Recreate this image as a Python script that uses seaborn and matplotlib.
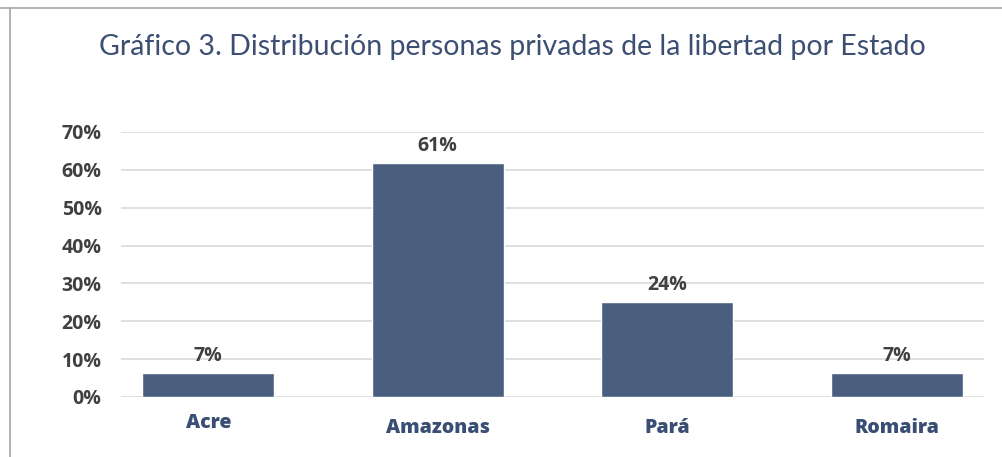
import numpy as np
import pandas as pd
import matplotlib
matplotlib.use('Agg')
import matplotlib.pyplot as plt
import matplotlib.transforms as mtransforms
from matplotlib.lines import Line2D
import seaborn as sns

# Data
estados = ['Acre', 'Amazonas', 'Pará', 'Romaira']
porcentaje = [6.3, 61.8, 25.1, 6.3]          # bar heights (%)
etiquetas = ['7%', '61%', '24%', '7%']       # printed data labels
y_ticks = [0, 10, 20, 30, 40, 50, 60, 70]

TITLE = 'Gráfico 3. Distribución personas privadas de la libertad por Estado'
BAR_COLOR = '#4a5f80'
NAVY = '#3a4d72'
DARK = '#404040'
GRID = '#d9d9d9'

sns.set_theme(style='white')
plt.rcParams['font.family'] = ['Open Sans', 'DejaVu Sans']

df = pd.DataFrame({'estado': estados, 'pct': porcentaje})

fig = plt.figure(figsize=(10.02, 4.57), dpi=100)
fig.patch.set_facecolor('#FFFFFF')
ax = fig.add_axes([0.1208, 0.1313, 0.8612, 0.5799])

sns.barplot(data=df, x='estado', y='pct', color=BAR_COLOR, width=0.575,
            saturation=1, ax=ax, zorder=3)

ax.set_xlim(-0.38, 3.38)
ax.set_ylim(0, 70)
ax.set_yticks(y_ticks)
ax.set_yticklabels([f'{t}%' for t in y_ticks])
ax.yaxis.grid(True, color=GRID, linewidth=1.2, zorder=0)
ax.set_axisbelow(True)
for s in ax.spines.values():
    s.set_visible(False)
ax.set_xlabel('')
ax.set_ylabel('')
ax.tick_params(axis='y', length=0, pad=14, labelsize=14, labelcolor=DARK)
ax.tick_params(axis='x', length=0, pad=15, labelsize=14, labelcolor=NAVY)
for lab in ax.get_yticklabels():
    lab.set_fontweight('bold')
for lab in ax.get_xticklabels():
    lab.set_fontweight('heavy')
# Acre label sits a little higher in the original
acre = ax.get_xticklabels()[0]
acre.set_transform(acre.get_transform() +
                   mtransforms.ScaledTranslation(0, 0.05, fig.dpi_scale_trans))

ax.bar_label(ax.containers[0], labels=etiquetas, padding=5,
             fontsize=14, fontweight='bold', color=DARK)

fig.text(0.511, 0.897, TITLE, ha='center', va='center',
         fontsize=20.5, color='#3c4f73', family=['Lato', 'DejaVu Sans'])

# chart frame (top and left edges visible)
fig.add_artist(Line2D([0, 1], [1 - 8 / 457] * 2, transform=fig.transFigure,
                      color='#a6a6a6', linewidth=1.2))
fig.add_artist(Line2D([9.5 / 1002] * 2, [0, 1 - 8 / 457], transform=fig.transFigure,
                      color='#a6a6a6', linewidth=1.2))

fig.savefig('out.png', dpi=100, facecolor=fig.get_facecolor())
